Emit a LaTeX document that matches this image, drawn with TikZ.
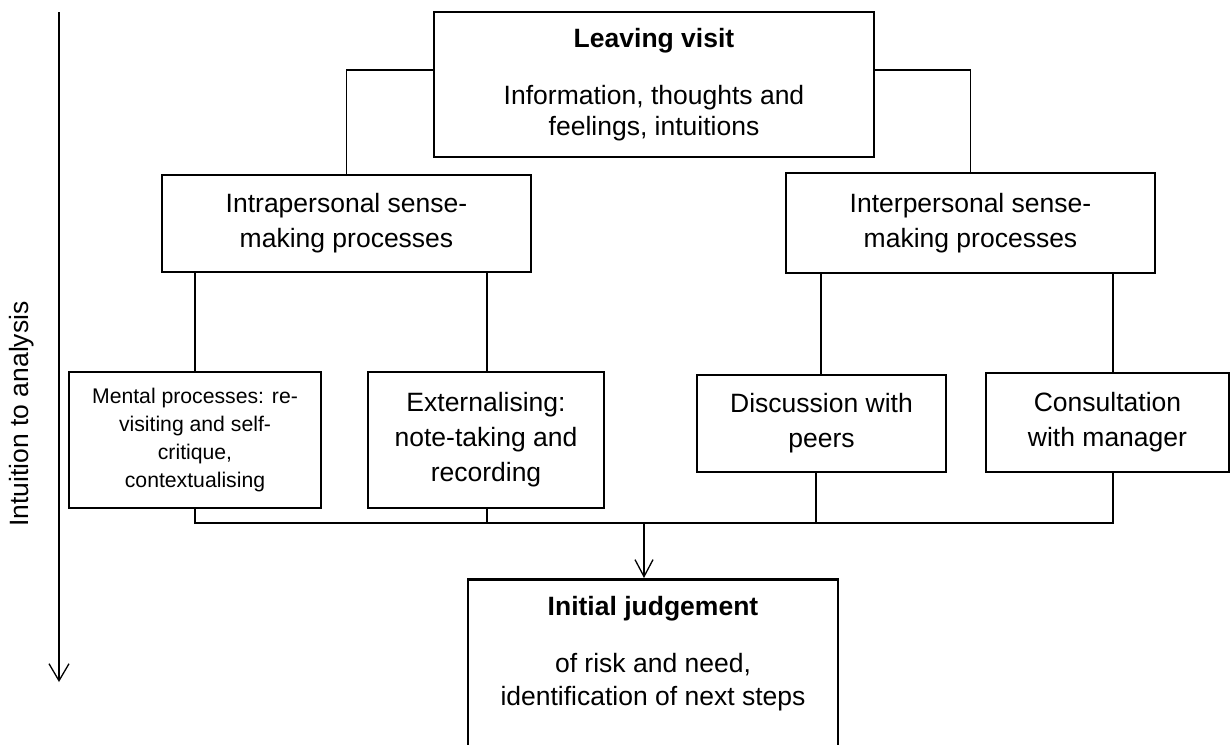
\documentclass[tikz,border=0pt]{standalone}
\usepackage{fontspec}
\setmainfont{Liberation Sans}
\usetikzlibrary{arrows.meta}
\begin{document}
\begin{tikzpicture}[x=1pt,y=-1pt,
  box/.style={draw=black,line width=2.7pt,rectangle,inner sep=0pt,align=center,
    font=\fontsize{26.5}{35}\selectfont},
  smallbox/.style={box,font=\fontsize{21.2}{28}\selectfont},
  txt/.style={inner sep=0pt,font=\fontsize{26.5}{35}\selectfont},
  conn/.style={draw=black,line width=1.3pt},
  vtip/.style={conn,-{Straight Barb[length=17pt,width=18pt,line width=1.3pt]}},
  axtip/.style={conn,-{Straight Barb[length=17pt,width=20pt,line width=1.3pt]}}]
\useasboundingbox (0,0) rectangle (1230,744);
\fill[white] (0,0) rectangle (1230,744);

% boxes
\node[box,minimum width=440pt,minimum height=145pt,font=\fontsize{26.5}{31}\selectfont]
  (top) at (654,84.5) {\textbf{Leaving visit}\\[26pt]Information, thoughts and\\feelings, intuitions};
\node[box,minimum width=369pt,minimum height=97pt] (intra) at (346.5,223.5)
  {Intrapersonal sense-\\making processes};
\node[box,minimum width=369pt,minimum height=100pt] (inter) at (970.5,223)
  {Interpersonal sense-\\making processes};
\node[smallbox,minimum width=252pt,minimum height=136pt] (mental) at (195,440)
  {Mental processes: re-\\visiting and self-\\critique,\\contextualising};
\node[box,minimum width=236pt,minimum height=136pt] (ext) at (486,440)
  {Externalising:\\note-taking and\\recording};
\node[box,minimum width=249pt,minimum height=97pt] (disc) at (821.5,423.5)
  {Discussion with\\peers};
\node[box,minimum width=243pt,minimum height=99pt] (cons) at (1107.5,422.5)
  {Consultation\\with manager};
\node[box,minimum width=370pt,minimum height=180pt,anchor=north] (judg) at (653,578) {};
\node[txt,anchor=base] (j1) at (653,615) {\textbf{Initial judgement}};
\node[txt,anchor=base] (j2) at (653,672) {of risk and need,};
\node[txt,anchor=base] (j3) at (653,705) {identification of next steps};

% axis
\coordinate (axtop) at (59,12);
\coordinate (axbot) at (59,682);
\draw[axtip] (axtop) -- (axbot);
\node[txt,rotate=90] (axlabel) at (22,414) {Intuition to analysis};

% connectors from top box
\coordinate (tl) at (347,70);
\coordinate (tr) at (970,70);
\draw[conn] (top.west |- tl) -| (intra.north);
\draw[conn] (top.east |- tr) -| (inter.north);

% second level to leaves
\draw[conn] (intra.south -| mental.north) -- (mental.north);
\coordinate (ex) at (487,0);
\draw[conn] (intra.south -| ex) -- (ext.north -| ex);
\coordinate (dx) at (821,0);
\draw[conn] (inter.south -| dx) -- (disc.north -| dx);
\coordinate (cx) at (1113,0);
\draw[conn] (inter.south -| cx) -- (cons.north -| cx);

% bottom bus
\coordinate (busL) at (195,523);
\coordinate (busR) at (1113,523);
\coordinate (dbx) at (816,0);
\draw[conn] (mental.south) -- (busL) -- (busR) -- (cons.south -| busR);
\draw[conn] (ext.south -| ex) -- (busL -| ex);
\draw[conn] (disc.south -| dbx) -- (busL -| dbx);
\coordinate (arr) at (644,523);
\draw[vtip] (arr) -- (judg.north -| arr);
\end{tikzpicture}
\end{document}
